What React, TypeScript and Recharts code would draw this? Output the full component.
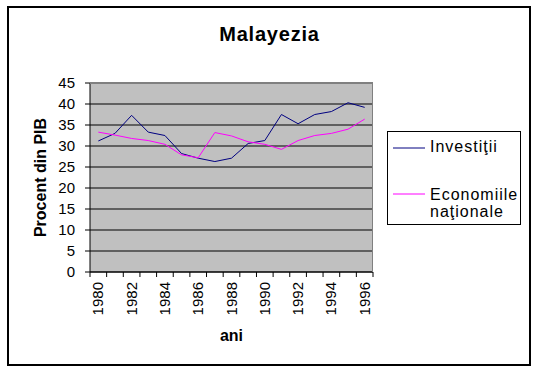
import { LineChart, Line, XAxis, YAxis, CartesianGrid, Legend, Label } from "recharts";

const years = ["1980", "1981", "1982", "1983", "1984", "1985", "1986", "1987", "1988", "1989", "1990", "1991", "1992", "1993", "1994", "1995", "1996"];
const investitii = [31.2, 33, 37.3, 33.3, 32.5, 28.2, 27.1, 26.3, 27.1, 30.6, 31.3, 37.5, 35.3, 37.5, 38.2, 40.3, 39.2];
const economii = [33.3, 32.6, 31.8, 31.3, 30.4, 27.9, 27.2, 33.2, 32.4, 31.0, 30.4, 29.2, 31.3, 32.5, 33.0, 34.0, 36.4];
const yTicks = [0, 5, 10, 15, 20, 25, 30, 35, 40, 45];
const seriesNames = ["Investiţii", "Economiile naţionale"];

const data = years.map((year, i) => ({ year, inv: investitii[i], eco: economii[i] }));

const FONT = 'Arial, "Liberation Sans", sans-serif';
const W = 539;
const H = 372;
const PLOT_LEFT = 90;
const PLOT_TOP = 83;
const PLOT_RIGHT = 373;
const PLOT_BOTTOM = 272;
const PLOT_W = PLOT_RIGHT - PLOT_LEFT;
const HALF = PLOT_W / years.length / 2;

const XTick = (props: any) => {
  const { x, y, payload, index } = props;
  const axisY = y - 9;
  const show = Number(payload.value) % 2 === 0;
  return (
    <g>
      <line x1={x - HALF} x2={x - HALF} y1={axisY} y2={axisY + 5} stroke="#000" />
      {index === years.length - 1 && (
        <line x1={x + HALF} x2={x + HALF} y1={axisY} y2={axisY + 5} stroke="#000" />
      )}
      {show && (
        <text
          transform={`translate(${x + 5},${y + 1}) rotate(-90)`}
          textAnchor="end"
          fontSize={15}
          fontFamily={FONT}
          fill="#000"
        >
          {payload.value}
        </text>
      )}
    </g>
  );
};

const LegendBox = (props: any) => {
  const items = [...(props.payload || [])].sort(
    (a: any, b: any) => seriesNames.indexOf(a.value) - seriesNames.indexOf(b.value)
  );
  return (
    <div
      style={{
        position: "relative",
        width: 134,
        height: 94,
        border: "1px solid #000",
        background: "#fff",
        boxSizing: "border-box",
        fontFamily: FONT,
        fontSize: 16,
        letterSpacing: 1,
        color: "#000",
      }}
    >
      {items.map((p: any, i: number) => (
        <div key={i} style={{ position: "absolute", left: 0, top: i === 0 ? 6 : 54, display: "flex" }}>
          <svg width={42} height={17} style={{ display: "block" }}>
            <line x1={5} x2={37} y1={i === 0 ? 10 : 8} y2={i === 0 ? 10 : 8} stroke={p.color} />
          </svg>
          <div style={{ width: 92, lineHeight: "17px", textAlign: "left" }}>{p.value}</div>
        </div>
      ))}
    </div>
  );
};

export default function App() {
  return (
    <div style={{ position: "absolute", left: 0, top: 0, width: W, height: H, background: "#fff" }}>
      <div
        style={{
          position: "absolute",
          left: 7,
          top: 6,
          width: 524,
          height: 360,
          border: "2px solid #000",
          boxSizing: "border-box",
        }}
      />
      <div
        style={{
          position: "absolute",
          left: 0,
          top: 24,
          width: W,
          textAlign: "center",
          fontFamily: FONT,
          fontWeight: "bold",
          fontSize: 20,
          lineHeight: "20px",
          letterSpacing: 0.8,
        }}
      >
        Malayezia
      </div>
      <div style={{ position: "absolute", left: 0, top: 0 }}>
        <LineChart
          width={W}
          height={H}
          data={data}
          margin={{ top: PLOT_TOP, right: W - PLOT_RIGHT, left: 10, bottom: H - PLOT_BOTTOM - 50 }}
        >
          <CartesianGrid vertical={false} stroke="#000" fill="#C0C0C0" fillOpacity={1} />
          <XAxis
            dataKey="year"
            interval={0}
            height={50}
            padding={{ left: HALF, right: HALF }}
            tickLine={false}
            tickSize={4}
            tickMargin={5}
            axisLine={{ stroke: "#000" }}
            tick={<XTick />}
          >
            <Label
              content={(p: any) => (
                <text
                  x={p.viewBox.x + p.viewBox.width / 2}
                  y={p.viewBox.y + 69}
                  textAnchor="middle"
                  fontFamily={FONT}
                  fontWeight="bold"
                  fontSize={16}
                  fill="#000"
                >
                  ani
                </text>
              )}
            />
          </XAxis>
          <YAxis
            width={80}
            domain={[0, 45]}
            ticks={yTicks}
            interval={0}
            tickSize={5}
            tickMargin={10}
            axisLine={{ stroke: "#000" }}
            tickLine={{ stroke: "#000" }}
            tick={{ fill: "#000", fontSize: 15, fontFamily: FONT }}
          >
            <Label
              content={(p: any) => {
                const cx = 40;
                const cy = p.viewBox.y + p.viewBox.height / 2;
                return (
                  <text
                    transform={`translate(${cx + 6},${cy}) rotate(-90)`}
                    textAnchor="middle"
                    fontFamily={FONT}
                    fontWeight="bold"
                    fontSize={16}
                    fill="#000"
                  >
                    Procent din PIB
                  </text>
                );
              }}
            />
          </YAxis>
          <Legend
            layout="vertical"
            align="center"
            verticalAlign="middle"
            wrapperStyle={{ position: "absolute", left: 387, top: 131, width: 134, height: 94 }}
            content={<LegendBox />}
          />
          <Line
            type="linear"
            dataKey="inv"
            name={seriesNames[0]}
            stroke="#000080"
            strokeWidth={1}
            dot={false}
            isAnimationActive={false}
          />
          <Line
            type="linear"
            dataKey="eco"
            name={seriesNames[1]}
            stroke="#FF00FF"
            strokeWidth={1}
            dot={false}
            isAnimationActive={false}
          />
        </LineChart>
      </div>
      <div
        style={{
          position: "absolute",
          left: PLOT_LEFT,
          top: PLOT_TOP,
          width: PLOT_W,
          height: PLOT_BOTTOM - PLOT_TOP,
          borderTop: "1px solid #808080",
          borderRight: "1px solid #808080",
          boxSizing: "border-box",
          pointerEvents: "none",
        }}
      />
    </div>
  );
}
